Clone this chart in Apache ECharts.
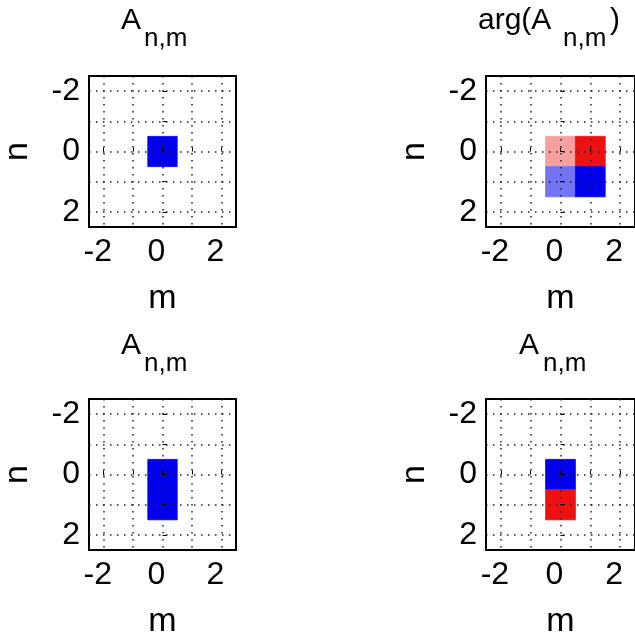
<!DOCTYPE html>
<html>
<head>
<meta charset="utf-8">
<script src="https://cdn.jsdelivr.net/npm/echarts@6/dist/echarts.min.js"></script>
<style>html,body{margin:0;padding:0;background:#fff}#c{width:635px;height:640px}</style>
</head>
<body>
<div id="c"></div>
<script>
// ---- data ----
// cells: [m, n, value]; value > 0 -> blue, value < 0 -> red, magnitude = intensity
var panel1Cells = [[0, 0, 1]];
var panel2Cells = [[0, 0, -0.4], [1, 0, -1], [0, 1, 0.55], [1, 1, 1]];
var panel3Cells = [[0, 0, 1], [0, 1, 1]];
var panel4Cells = [[0, 0, 1], [0, 1, -1]];
// title pieces: [main, subscript, trailing]
var panelTitles = [['A', 'n,m', ''], ['arg(A', 'n,m', ')'], ['A', 'n,m', ''], ['A', 'n,m', '']];
var axisRange = [-2.5, 2.5];
var tickLabelValues = [-2, 0, 2];
var gridLineValues = [-2, -1, 0, 1, 2];
var xName = 'm';
var yName = 'n';

var FONT = '"Liberation Sans", Arial, Helvetica, sans-serif';
var panels = [panel1Cells, panel2Cells, panel3Cells, panel4Cells];
var gridPos = [
  {left: 86, top: 76}, {left: 486, top: 76},
  {left: 86, top: 399}, {left: 486, top: 399}
];
// [mainLeft, subLeft, trailLeft, mainTop, subTop]
var titlePos = [
  [121, 144, 0, 6, 26],
  [478, 563, 610, 6, 26],
  [121, 144, 0, 331, 351],
  [519, 543, 0, 331, 351]
];

function cellColor(v) {
  var t = Math.min(1, Math.abs(v));
  var lo = 255 * (1 - t);
  if (v >= 0) {
    return 'rgb(' + Math.round(lo) + ',' + Math.round(lo) + ',' + Math.round(lo + 238 * t) + ')';
  }
  return 'rgb(' + Math.round(lo + 238 * t) + ',' + Math.round(lo + 17 * t) + ',' + Math.round(lo + 17 * t) + ')';
}

var chart = echarts.init(document.getElementById('c'), null, {renderer: 'canvas'});
var option = {
  backgroundColor: '#fff',
  animation: false,
  title: [], grid: [], xAxis: [], yAxis: [], series: []
};

function addTitle(text, left, top, size) {
  option.title.push({
    text: text, left: left, top: top, padding: 0, itemGap: 0,
    textStyle: {fontFamily: FONT, fontSize: size, fontWeight: 'normal', color: '#000'}
  });
}

panels.forEach(function (cells, i) {
  var tt = panelTitles[i], tp = titlePos[i];
  addTitle(tt[0], tp[0], tp[3], 30);
  addTitle(tt[1], tp[1], tp[4], 26);
  if (tt[2]) addTitle(tt[2], tp[2], tp[3], 30);

  option.grid.push({
    left: gridPos[i].left, top: gridPos[i].top, width: 150, height: 151,
    show: true, borderColor: '#000', borderWidth: 2, backgroundColor: 'transparent',
    containLabel: false
  });
  var common = {
    type: 'value', gridIndex: i, min: axisRange[0], max: axisRange[1],
    nameLocation: 'middle',
    nameTextStyle: {fontFamily: FONT, fontSize: 34, color: '#000'},
    axisLine: {show: false},
    axisTick: {show: true, inside: true, length: 4, customValues: gridLineValues, lineStyle: {color: '#000', width: 1}},
    axisLabel: {customValues: tickLabelValues, fontFamily: FONT, fontSize: 32, color: '#000'},
    splitLine: {show: true, lineStyle: {color: '#222', width: 1.5, type: [1.5, 5.5]}}
  };
  option.xAxis.push(Object.assign({}, common, {
    position: 'bottom', name: xName, nameGap: 55,
    axisLabel: Object.assign({}, common.axisLabel, {margin: 9, padding: [0, 12, 0, 0]})
  }));
  option.yAxis.push(Object.assign({}, common, {
    position: 'left', inverse: true, name: yName, nameGap: 54, nameRotate: 90,
    axisLabel: Object.assign({}, common.axisLabel, {margin: 9})
  }));
  option.series.push({
    type: 'custom', xAxisIndex: i, yAxisIndex: i, z: -1,
    data: cells,
    renderItem: function (params, api) {
      var m = api.value(0), n = api.value(1), v = api.value(2);
      var p0 = api.coord([m - 0.5, n - 0.5]);
      var p1 = api.coord([m + 0.5, n + 0.5]);
      var c = cellColor(v);
      return {
        type: 'rect',
        shape: {
          x: Math.min(p0[0], p1[0]), y: Math.min(p0[1], p1[1]),
          width: Math.abs(p1[0] - p0[0]), height: Math.abs(p1[1] - p0[1])
        },
        style: {fill: c, stroke: c, lineWidth: 0.8}
      };
    }
  });
});

chart.setOption(option);
</script>
</body>
</html>
